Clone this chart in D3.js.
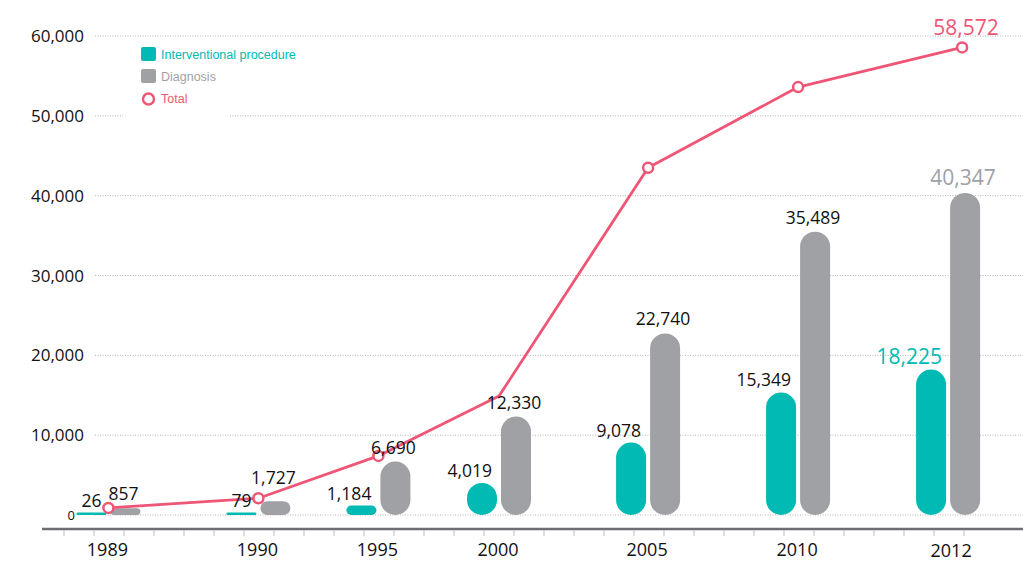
<!DOCTYPE html>
<html>
<head>
<meta charset="utf-8">
<script src="https://cdn.jsdelivr.net/npm/d3@7/dist/d3.min.js"></script>
<style>
	html, body { margin: 0; padding: 0; background: #fff; }
	svg { display: block; font-family: 'Open Sans', sans-serif; }
</style>
</head>
<body>
<svg id="chart"></svg>
<script>
const years = ['1989', '1990', '1995', '2000', '2005', '2010', '2012'];
const interventional = [26, 79, 1184, 4019, 9078, 15349, 18225];
const diagnosis = [857, 1727, 6690, 12330, 22740, 35489, 40347];
// total line (only 2012 is labelled)
const totals = [883, 2100, 7400, 14900, 43500, 53600, 58572];
const yTicks = [0, 10000, 20000, 30000, 40000, 50000, 60000];
const legendLabels = ['Interventional procedure', 'Diagnosis', 'Total'];

const colors = { teal: '#00bab3', grey: '#a0a1a5', pink: '#ef5676', text: '#111' };

const width = 1023;
const height = 563;
const svg = d3.select('#chart')
	.attr('width', width)
	.attr('height', height);

const y = d3.scaleLinear()
	.domain([0, 60000]).range([515, 36]);

// x axis is laid out in minor tick units, 30px apart
const xTick = d3.scaleLinear()
	.domain([0, 30]).range([64, 964]);
const slot = d3.scaleOrdinal()
	.domain(years).range([1.48, 6.48, 10.48, 14.5, 19.47, 24.47, 29.47]);
const cx = year => xTick(slot(year));
// the last total point sits a bit right of its bars
const totalX = year => cx(year) + (year === '2012' ? 14 : 0);

const barW = 30;
const fmt = d3.format(',');

// gridlines
svg.append('g').selectAll('line').data(yTicks).enter()
	.append('line')
		.attr('x1', 95).attr('x2', width)
		.attr('y1', d => y(d)).attr('y2', d => y(d))
		.attr('stroke', '#b5b5b5')
		.attr('stroke-width', 1)
		.attr('stroke-dasharray', '1,1.5');

svg.append('g').selectAll('text').data(yTicks).enter()
	.append('text')
		.attr('x', d => d === 0 ? 75 : 84)
		.attr('y', d => y(d))
		.attr('dy', d => d === 0 ? '0.35em' : '0.36em')
		.attr('text-anchor', 'end')
		.attr('font-size', d => d === 0 ? 13 : 17)
		.attr('fill', colors.text)
		.text(d => fmt(d));

// bottom axis
svg.append('line')
	.attr('x1', 42).attr('x2', width)
	.attr('y1', 529).attr('y2', 529)
	.attr('stroke', '#6d6e71')
	.attr('stroke-width', 2.5);
svg.append('g').selectAll('line').data(d3.range(0, 31)).enter()
	.append('line')
		.attr('x1', d => xTick(d)).attr('x2', d => xTick(d))
		.attr('y1', 530).attr('y2', 536)
		.attr('stroke', '#c8c8c8')
		.attr('stroke-width', 1.2);
svg.append('g').selectAll('text').data(years).enter()
	.append('text')
		.attr('x', d => cx(d) - 1 + (d === '2012' ? 4 : 0))
		.attr('y', d => d === '2012' ? 557 : 556)
		.attr('text-anchor', 'middle')
		.attr('font-size', 18)
		.attr('fill', colors.text)
		.text(d => d);

// pill shaped bars
const barH = v => Math.max(y(0) - y(v), 2.5);
const pill = (sel, xOff, fill) => {
	sel.attr('x', d => cx(d.year) + xOff)
		.attr('width', barW)
		.attr('y', d => y(0) - barH(d.value))
		.attr('height', d => barH(d.value))
		.attr('rx', d => Math.min(barW / 2, barH(d.value) / 2))
		.attr('fill', fill);
};

const tealData = years.map((year, i) => ({ year: year, value: interventional[i], i: i }));
const greyData = years.map((year, i) => ({ year: year, value: diagnosis[i], i: i }));

svg.append('g').selectAll('rect').data(tealData).enter()
	.append('rect').call(pill, -32, colors.teal);
svg.append('g').selectAll('rect').data(greyData).enter()
	.append('rect').call(pill, 2, colors.grey);

// total line
const line = d3.line()
	.x((d, i) => totalX(years[i]))
	.y(d => y(d));
svg.append('path').datum(totals)
	.attr('d', line)
	.attr('fill', 'none')
	.attr('stroke', colors.pink)
	.attr('stroke-width', 2.8)
	.attr('stroke-linejoin', 'round');
svg.append('g').selectAll('circle')
	.data(totals.map((v, i) => ({ year: years[i], value: v })).filter(d => d.year !== '2000'))
	.enter()
	.append('circle')
		.attr('cx', d => totalX(d.year))
		.attr('cy', d => y(d.value))
		.attr('r', 5)
		.attr('fill', '#fff')
		.attr('stroke', colors.pink)
		.attr('stroke-width', 2.5);

// value labels
const last = years.length - 1;
svg.append('g').selectAll('text').data(tealData).enter()
	.append('text')
		.attr('x', d => cx(d.year) - 2 - (d.i === last ? 4 : 5))
		.attr('y', d => y(0) - barH(d.value) - 6)
		.attr('text-anchor', 'end')
		.attr('font-size', d => d.i === last ? 21 : 17.5)
		.attr('fill', d => d.i === last ? colors.teal : colors.text)
		.text(d => fmt(d.value));
svg.append('g').selectAll('text').data(greyData).enter()
	.append('text')
		.attr('x', d => cx(d.year) + 2 + barW / 2 - 2)
		.attr('y', d => y(d.value) - (d.i === 1 ? 17 : 8))
		.attr('text-anchor', 'middle')
		.attr('font-size', d => d.i === last ? 21 : 17.5)
		.attr('fill', d => d.i === last ? colors.grey : colors.text)
		.text(d => fmt(d.value));
svg.append('text')
	.attr('x', totalX(years[last]) + 4)
	.attr('y', y(totals[last]) - 12)
	.attr('text-anchor', 'middle')
	.attr('font-size', 21)
	.attr('fill', colors.pink)
	.text(fmt(totals[last]));

// legend
const legend = svg.append('g');
legend.append('rect')
	.attr('x', 123).attr('y', 42)
	.attr('width', 107).attr('height', 76)
	.attr('fill', '#fff');
const legendColors = [colors.teal, colors.grey, colors.pink];
const legendItems = legend.selectAll('g').data(legendLabels).enter()
	.append('g')
		.attr('transform', (d, i) => `translate(141, ${54 + i * 22})`);
legendItems.filter((d, i) => i < 2)
	.append('rect')
		.attr('x', 0).attr('y', -7)
		.attr('width', 15).attr('height', 14)
		.attr('rx', 2)
		.attr('fill', (d, i) => legendColors[i]);
legendItems.filter((d, i) => i === 2)
	.append('circle')
		.attr('cx', 7.5).attr('cy', 1)
		.attr('r', 5.5)
		.attr('fill', '#fff')
		.attr('stroke', colors.pink)
		.attr('stroke-width', 2.5);
legendItems.append('text')
	.attr('x', 20)
	.attr('y', 5)
	.attr('font-family', "'Liberation Sans', Arial, sans-serif")
	.attr('font-size', 12.5)
	.attr('fill', (d, i) => legendColors[i])
	.text(d => d);
</script>
</body>
</html>
